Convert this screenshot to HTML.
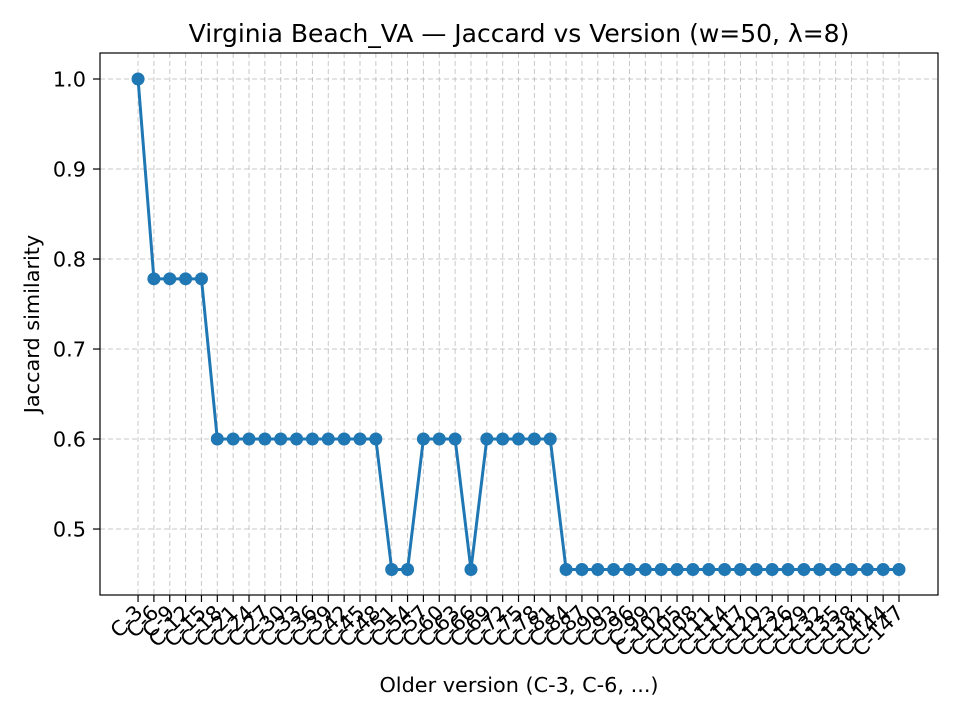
<!DOCTYPE html>
<html><head><meta charset="utf-8">
<style>body{margin:0;background:#fff;}svg{display:block;font-family:"DejaVu Sans","Liberation Sans",sans-serif;}</style>
</head><body>
<svg id="chart" width="960" height="720"></svg>
<script>
const categories = [];
for (let v = 3; v <= 147; v += 3) categories.push('C-' + v);
const values = [1.0,0.778,0.778,0.778,0.778,
0.6,0.6,0.6,0.6,0.6,0.6,0.6,0.6,0.6,0.6,0.6,
0.455,0.455,0.6,0.6,0.6,0.455,0.6,0.6,0.6,0.6,0.6,
0.455,0.455,0.455,0.455,0.455,0.455,0.455,0.455,0.455,0.455,0.455,0.455,0.455,0.455,0.455,0.455,0.455,0.455,0.455,0.455,0.455,0.455];
const yTicks = [0.5,0.6,0.7,0.8,0.9,1.0];

const L=100,R=938,T=53,B=595;
const xMin=-2.4,xMax=categories.length-1+2.46;
const yMin=0.4267,yMax=1.0289;
const X=i=>L+(i-xMin)/(xMax-xMin)*(R-L);
const Y=v=>B-(v-yMin)/(yMax-yMin)*(B-T);
const svg=document.getElementById('chart');
const NS='http://www.w3.org/2000/svg';
function mk(tag,attrs,parent){const e=document.createElementNS(NS,tag);for(const k in attrs)e.setAttribute(k,attrs[k]);(parent||svg).appendChild(e);return e;}

const grid=mk('g',{});


categories.forEach((c,i)=>{
  const l=mk('line',{x1:X(i),x2:X(i),y1:T,y2:B,stroke:'#b0b0b0','stroke-width':1,'stroke-dasharray':'5,3','stroke-opacity':0.7},grid);
  
  
});
yTicks.forEach(v=>{
  const l=mk('line',{x1:L,x2:R,y1:Y(v),y2:Y(v),stroke:'#b0b0b0','stroke-width':1,'stroke-dasharray':'5,3','stroke-opacity':0.7},grid);
  
  
});

const xt=mk('g',{'font-size':20.8});


categories.forEach((c,i)=>{
  mk('line',{x1:X(i),x2:X(i),y1:B,y2:B+7,stroke:'#000','stroke-width':1.2},xt);
  const t=mk('text',{x:X(i)+6,y:B+19,'text-anchor':'end',transform:`rotate(-45 ${X(i)+6} ${B+19})`},xt);
  t.textContent=c;
  
  
});
const yt=mk('g',{'font-size':20.8});


yTicks.forEach(v=>{
  mk('line',{x1:L-7,x2:L,y1:Y(v),y2:Y(v),stroke:'#000','stroke-width':1.2},yt);
  const t=mk('text',{x:L-14,y:Y(v)+7.5,'text-anchor':'end'},yt);
  t.textContent=v.toFixed(1);
  
  
});

const line=mk('polyline',{points:values.map((v,i)=>X(i)+','+Y(v)).join(' '),fill:'none',stroke:'#1f77b4','stroke-width':3});


values.forEach((v,i)=>{
  const c=mk('circle',{cx:X(i),cy:Y(v),r:6.5,fill:'#1f77b4'});
  
  
});

const frame=mk('rect',{x:L,y:T,width:R-L,height:B-T,fill:'none',stroke:'#000','stroke-width':1.2});



const title=mk('text',{x:(L+R)/2,y:42,'text-anchor':'middle','font-size':25});
title.textContent='Virginia Beach_VA — Jaccard vs Version (w=50, λ=8)';


const xl=mk('text',{x:(L+R)/2,y:692,'text-anchor':'middle','font-size':20.8});
xl.textContent='Older version (C-3, C-6, ...)';


const yl=mk('text',{x:39,y:(T+B)/2,'text-anchor':'middle','font-size':20.8,transform:`rotate(-90 39 ${(T+B)/2})`});
yl.textContent='Jaccard similarity';


</script>
</body></html>
